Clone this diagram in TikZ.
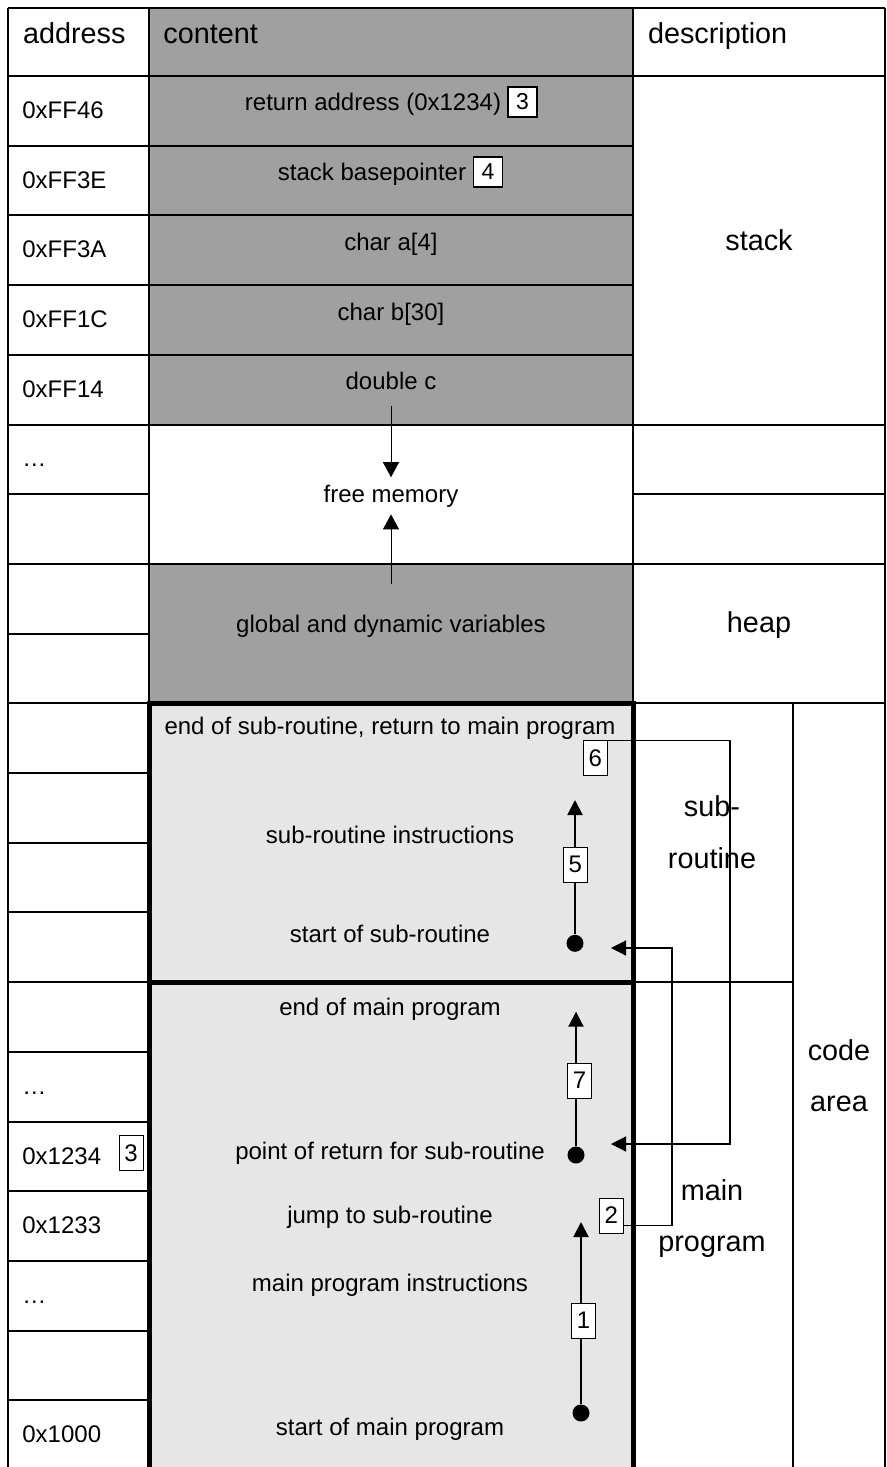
\documentclass[tikz,border=0pt]{standalone}
\usepackage{fontspec}
\setmainfont{Liberation Sans}
\usetikzlibrary{arrows.meta,calc,positioning}
\definecolor{gray6}{HTML}{A0A0A0}
\definecolor{gray1}{HTML}{E6E6E6}

\tikzset{
  cell/.style={line width=1pt},
  block/.style={line width=2.5pt},
  txt/.style={anchor=base,inner sep=0pt,font=\fontsize{12}{14}\selectfont},
  addr/.style={anchor=base west,inner sep=0pt,font=\fontsize{12}{14}\selectfont},
  head/.style={anchor=base west,inner sep=0pt,font=\fontsize{14.4}{17}\selectfont},
  desc/.style={anchor=base,inner sep=0pt,font=\fontsize{14.4}{17}\selectfont},
  numbox/.style={draw,fill=white,line width=0.5pt,minimum width=12pt,minimum height=17.5pt,inner sep=0pt,font=\fontsize{12}{14}\selectfont},
  stackbox/.style={draw,fill=white,line width=0.9pt,minimum width=14.5pt,minimum height=15pt,inner sep=0pt,font=\fontsize{11.5}{13}\selectfont},
  dot/.style={circle,fill,inner sep=0pt,minimum size=8.5pt},
  flow/.style={line width=1pt,-{Triangle[length=7.5pt,width=7.5pt]}},
  conn/.style={line width=0.6pt,-{Triangle[length=7.5pt,width=7.5pt]}},
  memarrow/.style={line width=0.5pt,-{Triangle[length=7.5pt,width=8pt]}}
}

\begin{document}
\begin{tikzpicture}[x=0.5pt,y=-0.5pt]
\useasboundingbox (0,0) rectangle (887,1467);
\fill[gray6] (149,8) rectangle (633,424.5);
\fill[gray6] (149,563.9) rectangle (633,703.3);
\fill[gray1] (149,703.3) rectangle (633,1475);

\draw[cell] (8,8) -- (885,8);
\draw[cell] (8,76) -- (885,76);
\foreach \x in {8,149,633,885} \draw[cell] (\x,8) -- (\x,1475);
\draw[cell] (793,703.3) -- (793,1475);
\foreach \i in {1,...,19} \draw[cell] (8,{76+69.7*\i}) -- (149,{76+69.7*\i});
\foreach \i in {1,...,5,7} \draw[cell] (149,{76+69.7*\i}) -- (633,{76+69.7*\i});
\foreach \i in {5,6,7,9} \draw[cell] (633,{76+69.7*\i}) -- (885,{76+69.7*\i});
\draw[cell] (633,982.1) -- (793,982.1);
\draw[block] (149,703.3) rectangle (633,982.1);
\draw[block] (149,982.1) rectangle (633,1480);

\node[head] (haddr) at (22.7,43.3) {address};
\node[head] (hcont) at (163,43.3) {content};
\node[head] (hdesc) at (647.6,43.3) {description};

\node[addr] (a1) at (22,118) {0xFF46};
\node[addr] (a2) at (22,188) {0xFF3E};
\node[addr] (a3) at (22,257.7) {0xFF3A};
\node[addr] (a4) at (22,327.4) {0xFF1C};
\node[addr] (a5) at (22,397.1) {0xFF14};
\node[addr] (a6) at (22,466.8) {…};
\node[addr] (a15) at (22,1094.1) {…};
\node[addr] (a16) at (22,1164.5) {0x1234};
\node[addr] (a17) at (22,1233.5) {0x1233};
\node[addr] (a18) at (22,1303.2) {…};
\node[addr] (a20) at (22,1442.6) {0x1000};
\node[numbox] (r3) at (131,1153) {3};

\node[txt] (ret) at (373,110) {return address (0x1234)};
\node[stackbox] (s3) at (522.5,102) {3};
\node[txt] (sbp) at (372,180) {stack basepointer};
\node[stackbox] (s4) at (488,172) {4};
\node[txt] (vara) at (391,250.5) {char a[4]};
\node[txt] (varb) at (391,320) {char b[30]};
\node[txt] (varc) at (391,389.5) {double c};
\node[txt,inner sep=3.5pt] (freemem) at (391,502) {free memory};
\node[txt] (glob) at (391,632) {global and dynamic variables};

\node[desc] (stack) at (759,250.7) {stack};
\node[desc] (heap) at (759,632) {heap};
\node[desc] (sub1) at (712,816.7) {sub-};
\node[desc] (sub2) at (712,868.3) {routine};
\node[desc] (main1) at (712,1200.7) {main};
\node[desc] (main2) at (712,1251.7) {program};
\node[desc] (code1) at (839,1060.7) {code};
\node[desc] (code2) at (839,1111.7) {area};

\node[txt] (subend) at (390,734) {end of sub-routine, return to main program};
\node[txt] (subins) at (390,843.3) {sub-routine instructions};
\node[txt] (substart) at (390,942.3) {start of sub-routine};
\node[txt] (mainend) at (390,1015) {end of main program};
\node[txt] (mainret) at (390,1159) {point of return for sub-routine};
\node[txt] (mainjump) at (390,1223.3) {jump to sub-routine};
\node[txt] (mainins) at (390,1291.7) {main program instructions};
\node[txt] (mainstart) at (390,1435) {start of main program};

\coordinate (stk) at (391,406);
\coordinate (hp) at (391,584);
\draw[memarrow] (stk) -- (freemem.north);
\draw[memarrow] (hp) -- (freemem.south);

\node[dot] (c5) at (575,943.3) {};
\node[dot] (c7) at (576,1155) {};
\node[dot] (c1) at (581,1413) {};
\coordinate (t5) at (575,800);
\coordinate (t7) at (576,1011.7);
\coordinate (t1) at (581,1222);
\coordinate (in5) at (611,948);
\coordinate (in7) at (611,1144);
\draw[flow] (c5) -- (t5);
\draw[flow] (c7) -- (t7);
\draw[flow] (c1) -- (t1);
\node[numbox] (b5) at (575.4,864.5) {5};
\node[numbox] (b7) at (579.5,1080.5) {7};
\node[numbox] (b1) at (583.5,1320.5) {1};
\node[numbox] (b6) at (595.3,758.2) {6};
\node[numbox] (b2) at (611.3,1215.5) {2};

\draw[conn] (b6.north east) -| (730,1144) -- (in7);
\draw[conn] ($(b2.south east)+(0,-8)$) -| (672,948) -- (in5);
\end{tikzpicture}
\end{document}
